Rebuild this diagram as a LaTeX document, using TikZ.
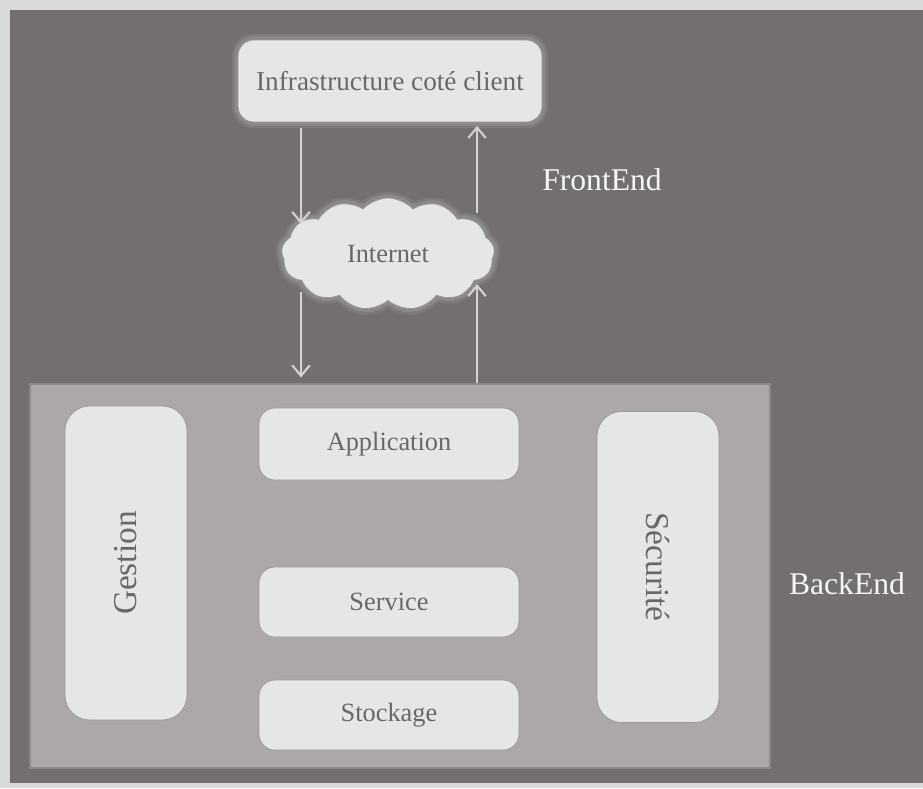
\documentclass[tikz,border=0pt]{standalone}
\usepackage{fontspec}
\setmainfont{Liberation Serif}
\usepackage{tikz}
\usetikzlibrary{shapes,arrows,arrows.meta,positioning}
\definecolor{bgdark}{HTML}{736F6E}
\definecolor{bgpale}{HTML}{D9D9D9}
\definecolor{backfill}{HTML}{ABA8A7}
\definecolor{backline}{HTML}{8C8887}
\definecolor{boxfill}{HTML}{E6E6E6}
\definecolor{boxline}{HTML}{9A9695}
\definecolor{boxtext}{HTML}{6B6766}
\definecolor{flowgray}{HTML}{D4D2D1}
\tikzstyle{block} = [rectangle,rounded corners=9pt,draw=boxline,fill=boxfill,
  text=boxtext,font=\fontsize{15}{17}\selectfont,inner sep=0pt]
\tikzstyle{glow} = [preaction={draw=white,opacity=0.08,line width=7pt},
  preaction={draw=white,opacity=0.12,line width=4pt}]
\tikzstyle{flow} = [-{Straight Barb[length=6pt,width=10pt]},draw=flowgray,line width=1.2pt]
\tikzstyle{title} = [text=white!93!gray,font=\fontsize{18}{20}\selectfont]

\begin{document}
\begin{tikzpicture}[x=0.02cm,y=-0.02cm]
\useasboundingbox (0,0) rectangle (923,788);
\fill[bgpale] (0,0) rectangle (923,788);
\fill[bgdark] (10,10) rectangle (923,783);

% front end
\node [block,glow,minimum width=6.08cm,minimum height=1.64cm,
  font=\fontsize{15.5}{17}\selectfont] (infra) at (390,81) {Infrastructure coté client};
\node [cloud,cloud puffs=13,cloud puff arc=95,aspect=2.1,draw=boxline,fill=boxfill,glow,text=boxtext,
  minimum width=4.26cm,minimum height=2.24cm,inner sep=0pt,
  font=\fontsize{15}{17}\selectfont] (cloud) at (388,254) {Internet};
\node [title] (front) at (602,180) {FrontEnd};

% back end
\node [rectangle,draw=backline,line width=1.5pt,fill=backfill,
  minimum width=14.8cm,minimum height=7.68cm] (backend) at (400,576) {};
\node [block,minimum width=5.2cm,minimum height=1.44cm] (appli) at (389,444) {Application};
\node [block,minimum width=5.2cm,minimum height=1.4cm] (service) at (389,602) {Service};
\node [block,minimum width=5.2cm,minimum height=1.4cm] (stock) at (389,715) {Stockage};
\node [block,rounded corners=14pt,minimum width=2.44cm,minimum height=6.28cm] (gestion) at (126,563) {};
\node [text=boxtext,rotate=90,font=\fontsize{19}{21}\selectfont] (gestlabel) at (gestion.center) {Gestion};
\node [block,rounded corners=14pt,minimum width=2.44cm,minimum height=6.22cm] (secu) at (658,567) {};
\node [text=boxtext,rotate=-90,font=\fontsize{19}{21}\selectfont] (seculabel) at (secu.center) {Sécurité};
\node [title] (back) at (847,584) {BackEnd};

% arrows
\coordinate (inL) at (301,224);
\coordinate (outL) at (301,292);
\coordinate (inR) at (477,284);
\coordinate (outR) at (477,213);
\draw[flow] ([yshift=-3pt]infra.south -| inL) -- (inL);
\draw[flow] (outL) -- ([yshift=3pt]backend.north -| outL);
\draw[flow] (backend.north -| inR) -- (inR);
\draw[flow] (outR) -- ([yshift=-2pt]infra.south -| outR);
\end{tikzpicture}
\end{document}
